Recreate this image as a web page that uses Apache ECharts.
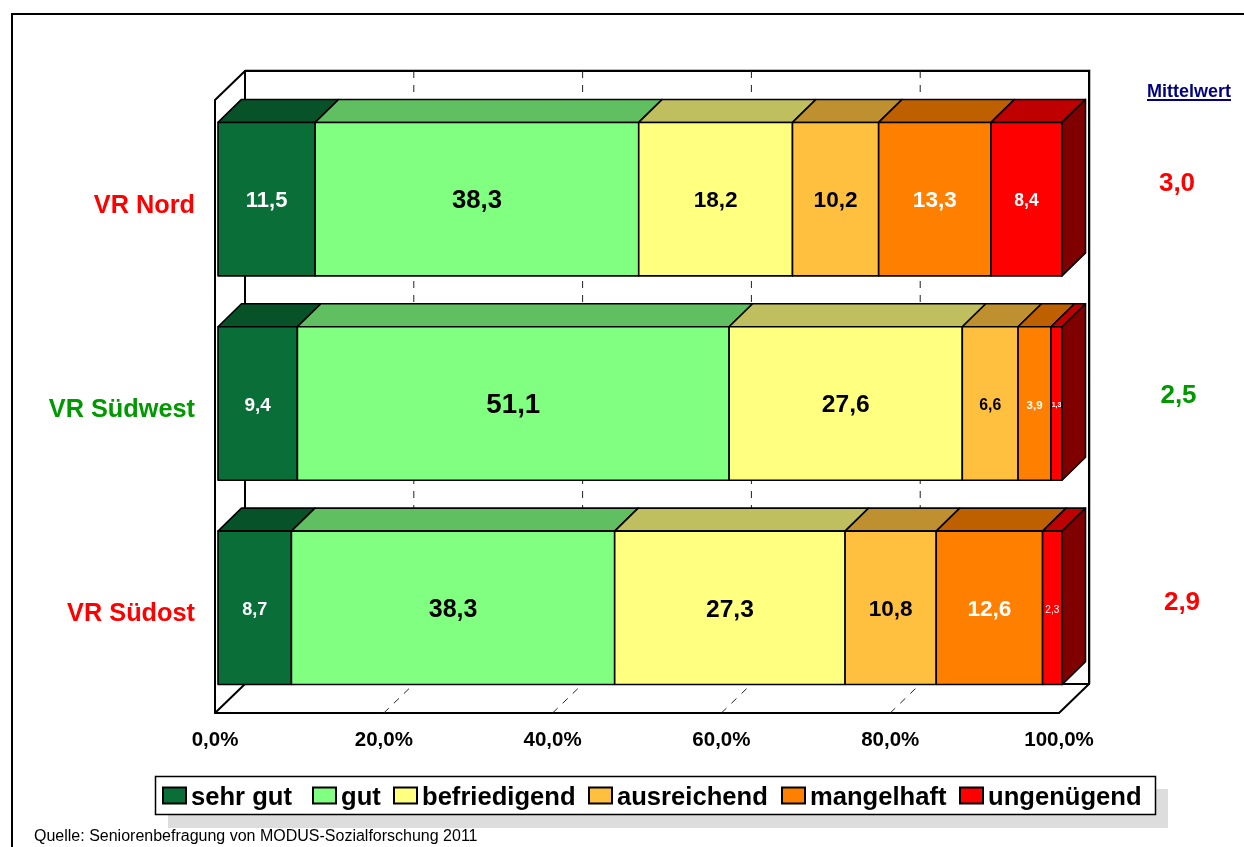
<!DOCTYPE html>
<html>
<head>
<meta charset="utf-8">
<style>html,body{margin:0;padding:0;background:#fff}#c{width:1244px;height:847px}</style>
<script src="https://cdn.jsdelivr.net/npm/echarts@6/dist/echarts.min.js"></script>
</head>
<body>
<div id="c"></div>
<script>
const categories = ['VR Nord', 'VR Südwest', 'VR Südost'];
const grades = ['sehr gut', 'gut', 'befriedigend', 'ausreichend', 'mangelhaft', 'ungenügend'];
const sehrGut = [11.5, 9.4, 8.7];
const gut = [38.3, 51.1, 38.3];
const befriedigend = [18.2, 27.6, 27.3];
const ausreichend = [10.2, 6.6, 10.8];
const mangelhaft = [13.3, 3.9, 12.6];
const ungenuegend = [8.4, 1.3, 2.3];
const mittelwert = ['3,0', '2,5', '2,9'];
const xTicks = [20, 40, 60, 80];

const seriesValues = [sehrGut, gut, befriedigend, ausreichend, mangelhaft, ungenuegend];
const FONT = '"Liberation Sans", Arial, sans-serif';
const frontColors = ['#0A6E38', '#80FF80', '#FFFF80', '#FFC040', '#FF8000', '#FF0000'];
const topColors = ['#08522A', '#60BF60', '#BFBF60', '#BF9030', '#BF6000', '#BF0000'];
const sideColor = '#800000';
const labelColors = ['#fff', '#000', '#000', '#000', '#fff', '#fff'];
const labelSizes = [
  [22, 25.7, 22.6, 22.6, 22.6, 17.5],
  [19, 27.7, 24.6, 15.8, 11.5, 7],
  [18, 25, 24.6, 22.6, 22.6, 10]
];
const catColors = ['#FF0000', '#009900', '#FF0000'];
const DX = 23.5, DY = 23, SHIFT_X = 3, SHIFT_Y = -3;
const WALL_DX = 30, WALL_DY = 29;
const legendLeft = [162, 312, 393, 588, 781, 959];
const meanPos = [[1177, 183.5], [1178.5, 395.5], [1182, 602.5]];

function fmt(v) { return v.toFixed(1).replace('.', ','); }
const totals = categories.map((_, c) => seriesValues.reduce((s, a) => s + a[c], 0));

function barRender(si) {
  return function (params, api) {
    const c = api.value(2);
    const p0 = api.coord([api.value(0), c]);
    const p1 = api.coord([api.value(1), c]);
    const h = api.size([0, 1])[1] * 0.751;
    const x0 = p0[0] + SHIFT_X, x1 = p1[0] + SHIFT_X;
    const yc = p0[1] + SHIFT_Y, y0 = yc - h / 2, y1 = yc + h / 2;
    const line = { stroke: '#000', lineWidth: 1.6, lineJoin: 'round' };
    const kids = [
      { type: 'polygon', shape: { points: [[x0, y0], [x0 + DX, y0 - DY], [x1 + DX, y0 - DY], [x1, y0]] },
        style: Object.assign({ fill: topColors[si] }, line) },
      { type: 'rect', shape: { x: x0, y: y0, width: x1 - x0, height: h },
        style: Object.assign({ fill: frontColors[si] }, line) }
    ];
    if (si === grades.length - 1) {
      kids.push({ type: 'polygon', shape: { points: [[x1, y0], [x1 + DX, y0 - DY], [x1 + DX, y1 - DY], [x1, y1]] },
        style: Object.assign({ fill: sideColor }, line) });
    }
    const size = labelSizes[c][si];
    kids.push({ type: 'text', z2: 10, style: {
      x: (x0 + x1) / 2, y: yc + 2, text: fmt(api.value(3)), align: 'center', verticalAlign: 'middle',
      fill: labelColors[si], fontFamily: FONT, fontWeight: size === 10 ? 'normal' : 'bold', fontSize: size
    } });
    return { type: 'group', children: kids };
  };
}

const barSeries = grades.map((name, si) => ({
  type: 'custom', name, z: 5, silent: true,
  coordinateSystem: 'cartesian2d',
  itemStyle: { color: frontColors[si], borderColor: '#000', borderWidth: 2 },
  encode: { x: [0, 1], y: 2 },
  renderItem: barRender(si),
  data: categories.map((_, c) => {
    const before = seriesValues.slice(0, si).reduce((s, a) => s + a[c], 0);
    const v = seriesValues[si][c];
    return [before / totals[c] * 100, (before + v) / totals[c] * 100, c, v];
  })
}));

const wallSeries = {
  type: 'custom', name: 'wall', z: 1, silent: true, coordinateSystem: 'cartesian2d',
  encode: { x: 0, y: 1 }, data: [[0, 0]],
  renderItem(params) {
    const g = params.coordSys;
    const l = g.x, t = g.y, r = g.x + g.width, b = g.y + g.height;
    const st = { stroke: '#000', lineWidth: 2, fill: null };
    const ln = (x1, y1, x2, y2) => ({ type: 'line', shape: { x1, y1, x2, y2 }, style: st });
    return { type: 'group', children: [
      { type: 'polyline', shape: { points: [[l + WALL_DX, t - WALL_DY - 1.5], [r + WALL_DX + 1.5, t - WALL_DY - 1.5], [r + WALL_DX + 1.5, b - WALL_DY]] },
        style: { stroke: '#BBBBBB', lineWidth: 1, fill: null } },
      { type: 'rect', shape: { x: l + WALL_DX, y: t - WALL_DY, width: g.width, height: g.height }, style: { fill: '#fff', stroke: '#000', lineWidth: 2 } },
      ln(l, t, l + WALL_DX, t - WALL_DY),
      ln(l, b, l + WALL_DX, b - WALL_DY),
      ln(r, b, r + WALL_DX, b - WALL_DY)
    ] };
  }
};

const gridSeries = {
  type: 'custom', name: 'grid', z: 2, silent: true, coordinateSystem: 'cartesian2d',
  encode: { x: 0, y: 1 }, data: xTicks.map(v => [v, 0]),
  renderItem(params, api) {
    const g = params.coordSys;
    const x = api.coord([api.value(0), 0])[0];
    const b = g.y + g.height, t = g.y;
    const st = { stroke: '#222', lineWidth: 1, lineDash: [7, 7] };
    return { type: 'group', children: [
      { type: 'line', shape: { x1: x + WALL_DX, y1: t - WALL_DY, x2: x + WALL_DX, y2: b - WALL_DY }, style: st },
      { type: 'line', shape: { x1: x, y1: b, x2: x + WALL_DX, y2: b - WALL_DY }, style: st }
    ] };
  }
};

const legends = grades.map((name, i) => ({
  data: [name], left: legendLeft[i], top: 785, padding: 0, z: 6,
  selectedMode: false, icon: 'rect', itemWidth: 23, itemHeight: 16,
  formatter: '{a|{name}}',
  textStyle: { fontFamily: FONT, fontWeight: 'bold', fontSize: 25.6, color: '#000',
    rich: { a: { fontFamily: FONT, fontWeight: 'bold', fontSize: 25.6, color: '#000', padding: [5, 0, 0, 0] } } }
}));

const graphics = [
  { type: 'polyline', z: 0, shape: { points: [[12, 847], [12, 14], [1244, 14]] }, style: { stroke: '#000', lineWidth: 2, fill: null } },
  { type: 'rect', z: 0, shape: { x: 168, y: 789, width: 1000, height: 39 }, style: { fill: '#DDDDDD' } },
  { type: 'rect', z: 1, shape: { x: 155.5, y: 776.5, width: 1000, height: 38 }, style: { fill: '#fff', stroke: '#000', lineWidth: 1.5 } },
  { type: 'text', z: 1, style: { x: 34, y: 837, text: 'Quelle: Seniorenbefragung von MODUS-Sozialforschung 2011', align: 'left', verticalAlign: 'middle', fontFamily: FONT, fontSize: 16, fill: '#000' } },
  { type: 'text', z: 1, style: { x: 1189, y: 92, text: 'Mittelwert', align: 'center', verticalAlign: 'middle', fontFamily: FONT, fontWeight: 'bold', fontSize: 18, fill: '#000080' } },
  { type: 'line', z: 1, shape: { x1: 1147, y1: 100, x2: 1231, y2: 100 }, style: { stroke: '#000080', lineWidth: 2 } }
].concat(mittelwert.map((m, i) => ({
  type: 'text', z: 1, style: { x: meanPos[i][0], y: meanPos[i][1], text: m, align: 'center', verticalAlign: 'middle', fontFamily: FONT, fontWeight: 'bold', fontSize: 26, fill: catColors[i] }
})));

const chart = echarts.init(document.getElementById('c'), null, { renderer: 'canvas' });
chart.setOption({
  animation: false,
  backgroundColor: '#fff',
  grid: { left: 215, top: 100, width: 844, height: 613, containLabel: false },
  legend: legends,
  xAxis: {
    type: 'value', min: 0, max: 100, interval: 20,
    axisLine: { show: true, lineStyle: { color: '#000', width: 2 } },
    axisTick: { show: false }, splitLine: { show: false },
    axisLabel: { margin: 17, fontFamily: FONT, fontWeight: 'bold', fontSize: 20.5, color: '#000', formatter: v => fmt(v) + '%' }
  },
  yAxis: {
    type: 'category', inverse: true, data: categories,
    axisLine: { show: true, onZero: false, lineStyle: { color: '#000', width: 2 } },
    axisTick: { show: false }, splitLine: { show: false },
    axisLabel: { margin: 20, verticalAlign: 'top', lineHeight: 7, fontFamily: FONT, fontWeight: 'bold', fontSize: 25.3,
      color: v => catColors[categories.indexOf(v)] }
  },
  graphic: graphics,
  series: [wallSeries, gridSeries].concat(barSeries)
});
</script>
</body>
</html>
